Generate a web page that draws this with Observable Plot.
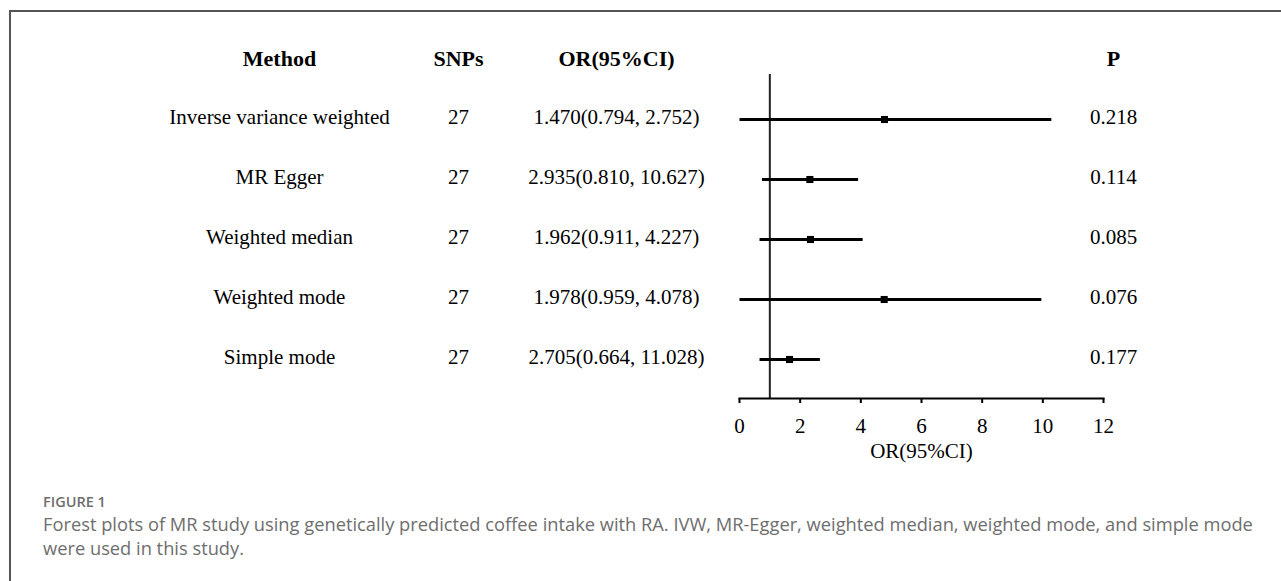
<!DOCTYPE html>
<html>
<head>
<meta charset="utf-8">
<script src="https://cdn.jsdelivr.net/npm/d3@7"></script>
<script src="https://cdn.jsdelivr.net/npm/@observablehq/plot@0.6"></script>
<style>
  html, body { margin: 0; padding: 0; background: #fff; }
  #wrap { position: relative; width: 1281px; height: 581px; overflow: hidden; }
  #box { position: absolute; left: 9px; top: 10px; right: -5px; bottom: -5px;
         border-top: 2px solid #555; border-left: 2px solid #555; }
  #chart { position: absolute; left: 0; top: 0; }
  .cap { position: absolute; left: 43px; font-family: "Open Sans", Lato, sans-serif; color: #6e6e6e; white-space: nowrap; }
  #figlabel { top: 493px; font-size: 14.5px; font-weight: 600; line-height: 18px; }
  #figtext { top: 512px; font-size: 18.3px; line-height: 24px; }
</style>
</head>
<body>
<div id="wrap">
  <div id="box"></div>
  <div id="chart"></div>
  <div class="cap" id="figlabel">FIGURE 1</div>
  <div class="cap" id="figtext">Forest plots of MR study using genetically predicted coffee intake with RA. IVW, MR-Egger, weighted median, weighted mode, and simple mode<br>were used in this study.</div>
</div>
<script>
// ---- data ----
const methods = ["Inverse variance weighted", "MR Egger", "Weighted median", "Weighted mode", "Simple mode"];
const snps = ["27", "27", "27", "27", "27"];
const orText = ["1.470(0.794, 2.752)", "2.935(0.810, 10.627)", "1.962(0.911, 4.227)", "1.978(0.959, 4.078)", "2.705(0.664, 11.028)"];
const pValues = ["0.218", "0.114", "0.085", "0.076", "0.177"];
// plotted positions
const estimate = [4.78, 2.32, 2.34, 4.77, 1.65];
const lower = [0.0, 0.74, 0.66, 0.0, 0.66];
const upper = [10.28, 3.91, 4.06, 9.95, 2.65];
const headers = ["Method", "SNPs", "OR(95%CI)", "P"];
const xTicks = [0, 2, 4, 6, 8, 10, 12];
const refLine = [1];
const axisTitle = "OR(95%CI)";

const rows = methods.map((m, i) => ({
  method: m, snps: snps[i], or: orText[i], p: pValues[i],
  est: estimate[i], lo: lower[i], hi: upper[i]
}));

const serif = "'Liberation Serif', 'Times New Roman', serif";
const fs = 21;
const hfs = 22;
// column centres as offsets from the plot frame
const colMethod = -460, colSnps = -281, colOr = -123, colP = 10;

const plot = Plot.plot({
  width: 1281,
  height: 470,
  marginLeft: 739,
  marginRight: 178,
  marginTop: 74,
  marginBottom: 72,
  x: { domain: [0, 12], ticks: xTicks },
  y: { type: "point", domain: methods, range: [119, 359], padding: 0, axis: null },
  style: { fontFamily: serif, fontSize: fs + "px", color: "#000", background: "transparent", overflow: "visible" },
  marks: [
    Plot.ruleX(refLine, { stroke: "#222", strokeWidth: 2 }),
    Plot.frame({ anchor: "bottom", stroke: "#000", strokeWidth: 2 }),
    Plot.axisX({ ticks: xTicks, tickSize: 5, tickPadding: 15, strokeWidth: 2, fontSize: fs, label: null, fill: "#000" }),
    Plot.text([axisTitle], { frameAnchor: "bottom", lineAnchor: "middle", dy: 53, text: d => d, fontSize: fs, fill: "#000" }),
    Plot.link(rows, { x1: "lo", x2: "hi", y1: "method", y2: "method", stroke: "#000", strokeWidth: 3 }),
    Plot.dot(rows, { x: "est", y: "method", symbol: "square", r: 4, fill: "#000", stroke: null }),
    // table columns
    Plot.text(rows, { y: "method", text: "method", frameAnchor: "left", textAnchor: "middle", dx: colMethod, dy: -2, fontSize: fs }),
    Plot.text(rows, { y: "method", text: "snps", frameAnchor: "left", textAnchor: "middle", dx: colSnps, dy: -2, fontSize: fs }),
    Plot.text(rows, { y: "method", text: "or", frameAnchor: "left", textAnchor: "middle", dx: colOr, dy: -2, fontSize: fs }),
    Plot.text(rows, { y: "method", text: "p", frameAnchor: "right", textAnchor: "middle", dx: colP, dy: -2, fontSize: fs }),
    // header
    Plot.text([headers[0]], { frameAnchor: "top-left", lineAnchor: "middle", textAnchor: "middle", dx: colMethod, dy: -16, text: d => d, fontWeight: "bold", fontSize: hfs }),
    Plot.text([headers[1]], { frameAnchor: "top-left", lineAnchor: "middle", textAnchor: "middle", dx: colSnps, dy: -16, text: d => d, fontWeight: "bold", fontSize: hfs }),
    Plot.text([headers[2]], { frameAnchor: "top-left", lineAnchor: "middle", textAnchor: "middle", dx: colOr, dy: -16, text: d => d, fontWeight: "bold", fontSize: hfs }),
    Plot.text([headers[3]], { frameAnchor: "top-right", lineAnchor: "middle", textAnchor: "middle", dx: colP, dy: -16, text: d => d, fontWeight: "bold", fontSize: hfs })
  ]
});
document.getElementById("chart").appendChild(plot);
</script>
</body>
</html>
